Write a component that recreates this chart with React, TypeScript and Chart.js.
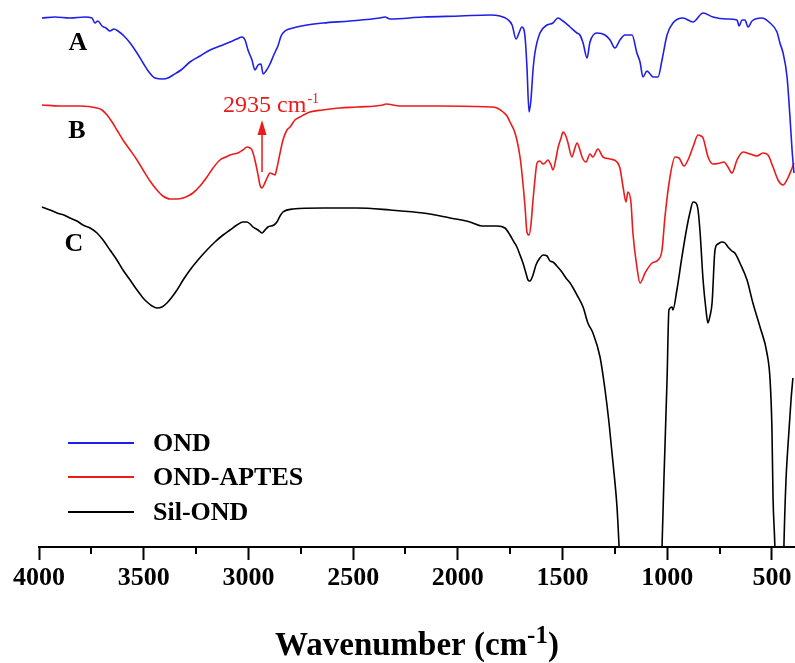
import React, { useEffect, useRef } from 'react';
import { Chart, registerables } from 'chart.js';

Chart.register(...registerables);

// ---------- axis ----------
const X_MIN = 390;
const X_MAX = 4000;
const MAJOR_TICKS = [4000, 3500, 3000, 2500, 2000, 1500, 1000, 500];
const MINOR_TICKS = [3750, 3250, 2750, 2250, 1750, 1250, 750];
const Y_MIN = 0;
const Y_MAX = 547;

// ---------- series (wavenumber cm-1, offset transmittance a.u.) ----------
const SERIES_LABELS = ['OND', 'OND-APTES', 'Sil-OND'];
const SERIES_TAGS = ['A', 'B', 'C'];
const SERIES_COLORS = ['#1f1fe8', '#ec1b1b', '#000000'];

const OND: [number, number][] = [
  [3986, 529], [3924, 530], [3852, 529], [3780, 530], [3747, 529], [3733, 524], [3719, 526], [3699, 521],
  [3680, 519], [3661, 516], [3642, 518], [3623, 516], [3594, 511], [3565, 504], [3532, 494], [3503, 484],
  [3475, 475], [3446, 469], [3408, 468], [3384, 469], [3360, 472], [3322, 477], [3279, 485], [3231, 491],
  [3183, 497], [3136, 501], [3088, 505], [3055, 508], [3031, 510], [3016, 507], [3002, 497], [2983, 487],
  [2969, 477], [2954, 482], [2940, 483], [2930, 473], [2916, 476], [2897, 483], [2883, 490], [2868, 497],
  [2859, 501], [2844, 511], [2825, 516], [2787, 519], [2720, 522], [2644, 524], [2515, 526], [2372, 529],
  [2348, 530], [2324, 528], [2166, 530], [1990, 531], [1846, 532], [1799, 531], [1765, 528], [1741, 522],
  [1722, 508], [1708, 514], [1694, 520], [1679, 510], [1670, 480], [1660, 435], [1651, 447], [1641, 477],
  [1632, 494], [1608, 514], [1574, 522], [1546, 524], [1522, 529], [1498, 526], [1464, 520], [1431, 514],
  [1417, 512], [1402, 504], [1383, 489], [1369, 505], [1336, 514], [1297, 512], [1273, 507], [1250, 499],
  [1226, 507], [1202, 512], [1168, 512], [1145, 494], [1130, 485], [1116, 470], [1097, 476], [1082, 473],
  [1068, 470], [1044, 470], [1025, 487], [1001, 512], [973, 524], [925, 529], [877, 525], [829, 534],
  [782, 530], [715, 528], [667, 527], [657, 521], [643, 527], [629, 527], [614, 520], [595, 526],
  [548, 529], [509, 524], [476, 515], [462, 504], [447, 494], [428, 470], [414, 430], [404, 397], [395, 374],
];

const OND_APTES: [number, number][] = [
  [3986, 442], [3900, 441], [3804, 441], [3723, 439], [3699, 437], [3675, 432], [3651, 425], [3628, 417],
  [3599, 407], [3565, 397], [3532, 387], [3503, 377], [3470, 366], [3437, 357], [3408, 351], [3374, 348],
  [3341, 348], [3312, 349], [3289, 351], [3265, 354], [3231, 361], [3198, 370], [3169, 379], [3136, 387],
  [3107, 390], [3088, 392], [3050, 394], [3026, 397], [3007, 400], [2992, 399], [2983, 397], [2969, 387],
  [2954, 372], [2945, 362], [2935, 359], [2926, 362], [2911, 369], [2897, 374], [2883, 373], [2873, 372],
  [2864, 379], [2849, 394], [2835, 407], [2816, 417], [2801, 420], [2778, 427], [2754, 430], [2706, 435],
  [2644, 437], [2563, 439], [2482, 440], [2357, 442], [2343, 443], [2276, 441], [2085, 441], [1846, 440],
  [1813, 439], [1784, 435], [1765, 431], [1751, 425], [1732, 417], [1718, 407], [1703, 390], [1694, 374],
  [1679, 340], [1670, 315], [1660, 312], [1651, 322], [1641, 347], [1632, 367], [1622, 384], [1608, 386],
  [1593, 383], [1584, 384], [1570, 387], [1555, 382], [1546, 377], [1531, 389], [1522, 399], [1507, 409],
  [1498, 415], [1484, 411], [1474, 404], [1455, 390], [1441, 399], [1431, 404], [1417, 397], [1407, 390],
  [1388, 385], [1369, 393], [1355, 390], [1331, 398], [1307, 390], [1273, 388], [1240, 385], [1226, 379],
  [1211, 360], [1197, 345], [1188, 355], [1173, 344], [1164, 314], [1145, 280], [1130, 264], [1106, 274],
  [1073, 284], [1044, 287], [1025, 297], [1011, 330], [987, 370], [963, 390], [944, 389], [920, 381],
  [901, 387], [877, 400], [853, 412], [839, 411], [829, 409], [805, 390], [782, 383], [748, 384],
  [729, 385], [710, 380], [691, 374], [667, 387], [638, 395], [605, 393], [572, 391], [543, 394],
  [519, 392], [495, 380], [471, 367], [447, 362], [424, 369], [404, 379], [395, 384],
];

const SIL_OND: [number, number][] = [
  [3986, 340], [3947, 337], [3914, 334], [3881, 332], [3852, 329], [3819, 326], [3790, 322], [3756, 319],
  [3723, 314], [3694, 307], [3661, 297], [3628, 287], [3599, 277], [3565, 267], [3532, 257], [3503, 249],
  [3484, 245], [3460, 241], [3437, 239], [3413, 240], [3389, 244], [3365, 250], [3341, 257], [3312, 267],
  [3279, 277], [3241, 287], [3198, 297], [3160, 305], [3121, 312], [3088, 317], [3055, 322], [3026, 325],
  [3007, 325], [2992, 323], [2978, 320], [2954, 317], [2935, 314], [2921, 317], [2907, 320], [2878, 322],
  [2864, 325], [2849, 331], [2835, 335], [2787, 338], [2644, 339], [2482, 339], [2324, 337], [2166, 334],
  [2037, 329], [1942, 325], [1885, 321], [1813, 321], [1775, 319], [1751, 312], [1732, 305], [1718, 300],
  [1703, 292], [1689, 284], [1675, 274], [1665, 267], [1656, 266], [1641, 272], [1627, 282], [1608, 289],
  [1593, 292], [1574, 291], [1560, 286], [1546, 285], [1527, 281], [1503, 275], [1484, 269], [1464, 264],
  [1431, 252], [1402, 240], [1379, 224], [1355, 214], [1321, 190], [1297, 157], [1278, 124], [1259, 84],
  [1240, 40], [1230, 0], [1222, -40], [1130, -200], [1033, -40], [1025, 0], [1016, 67], [1001, 167],
  [992, 237], [977, 240], [973, 237], [954, 257], [930, 290], [906, 320], [891, 335], [877, 345],
  [863, 344], [853, 337], [843, 314], [829, 267], [815, 237], [806, 224], [796, 231], [786, 244],
  [772, 297], [758, 303], [739, 305], [724, 304], [710, 300], [691, 296], [677, 294], [653, 284],
  [619, 267], [591, 244], [557, 220], [524, 194], [509, 167], [500, 117], [495, 50], [486, 0],
  [478, -80], [450, -80], [443, 0], [433, 67], [424, 100], [409, 147], [400, 169],
];

const SERIES = [OND, OND_APTES, SIL_OND];

// ---------- annotation (data coordinates) ----------
const TAG_POS: [number, number][] = [[3814, 504], [3819, 416], [3833, 303]];
const PEAK_WN = 2935;
const ARROW_FROM = 375;
const ARROW_TO = 427;
const PEAK_TEXT_WN = 3121;
const PEAK_TEXT_Y = 435;
const PEAK_TEXT = '2935 cm';
const SUP = '-1';
const X_TITLE = 'Wavenumber (cm';
const LEGEND_Y = [443, 477, 512];

const SERIF = '"Liberation Serif", "Times New Roman", serif';

const overlay = {
  id: 'overlay',
  afterDraw(chart: any) {
    const { ctx, chartArea } = chart;
    const x = chart.scales.x;
    const y = chart.scales.y;
    ctx.save();

    // minor ticks
    ctx.strokeStyle = '#000';
    ctx.lineWidth = 2;
    for (const t of MINOR_TICKS) {
      const px = Math.round(x.getPixelForValue(t));
      ctx.beginPath();
      ctx.moveTo(px, chartArea.bottom);
      ctx.lineTo(px, chartArea.bottom + 7);
      ctx.stroke();
    }

    // curve tags A B C
    ctx.font = `bold 26px ${SERIF}`;
    ctx.fillStyle = '#000';
    ctx.textAlign = 'center';
    ctx.textBaseline = 'middle';
    SERIES_TAGS.forEach((tag, i) => {
      ctx.fillText(tag, x.getPixelForValue(TAG_POS[i][0]), y.getPixelForValue(TAG_POS[i][1]));
    });

    // peak annotation
    const red = SERIES_COLORS[1];
    const ax = x.getPixelForValue(PEAK_WN);
    const y0 = y.getPixelForValue(ARROW_FROM);
    const y1 = y.getPixelForValue(ARROW_TO);
    ctx.strokeStyle = red;
    ctx.fillStyle = red;
    ctx.lineWidth = 1.5;
    ctx.beginPath();
    ctx.moveTo(ax, y0);
    ctx.lineTo(ax, y1 + 13);
    ctx.stroke();
    ctx.beginPath();
    ctx.moveTo(ax, y1);
    ctx.lineTo(ax - 4.5, y1 + 15);
    ctx.lineTo(ax + 4.5, y1 + 15);
    ctx.closePath();
    ctx.fill();

    ctx.textAlign = 'left';
    ctx.textBaseline = 'alphabetic';
    const tx = x.getPixelForValue(PEAK_TEXT_WN);
    const ty = y.getPixelForValue(PEAK_TEXT_Y);
    ctx.font = `24px ${SERIF}`;
    ctx.fillText(PEAK_TEXT, tx, ty);
    const w1 = ctx.measureText(PEAK_TEXT).width;
    ctx.font = `14px ${SERIF}`;
    ctx.fillText(SUP, tx + w1 + 1, ty - 9);

    // legend
    const ds = chart.data.datasets;
    ds.forEach((d: any, i: number) => {
      const ly = y.getPixelForValue(Y_MAX - LEGEND_Y[i]);
      ctx.strokeStyle = d.borderColor;
      ctx.lineWidth = 2;
      ctx.beginPath();
      ctx.moveTo(68, ly);
      ctx.lineTo(134, ly);
      ctx.stroke();
      ctx.fillStyle = '#000';
      ctx.font = `bold 26px ${SERIF}`;
      ctx.textBaseline = 'middle';
      ctx.fillText(d.label, 153, ly + 1);
    });

    // axis title with superscript
    ctx.fillStyle = '#000';
    ctx.textBaseline = 'alphabetic';
    const mainFont = `bold 33px ${SERIF}`;
    const supFont = `bold 25px ${SERIF}`;
    ctx.font = mainFont;
    const wa = ctx.measureText(X_TITLE).width;
    const wc = ctx.measureText(')').width;
    ctx.font = supFont;
    const wb = ctx.measureText(SUP).width;
    const total = wa + wb + wc;
    const cx = (chartArea.left + chartArea.right) / 2;
    const base = chartArea.bottom + 108;
    let sx = cx - total / 2;
    ctx.font = mainFont;
    ctx.fillText(X_TITLE, sx, base);
    sx += wa;
    ctx.font = supFont;
    ctx.fillText(SUP, sx, base - 12);
    sx += wb;
    ctx.font = mainFont;
    ctx.fillText(')', sx, base);

    ctx.restore();
  },
};

export default function App() {
  const ref = useRef<HTMLCanvasElement | null>(null);

  useEffect(() => {
    if (!ref.current) return;
    const chart = new Chart(ref.current, {
      type: 'line',
      data: {
        datasets: SERIES.map((s, i) => ({
          label: SERIES_LABELS[i],
          data: s.map(([wx, vy]) => ({ x: wx, y: vy })),
          borderColor: SERIES_COLORS[i],
          backgroundColor: SERIES_COLORS[i],
          borderWidth: 1.6,
          pointRadius: 0,
          fill: false,
          cubicInterpolationMode: 'monotone' as const,
        })),
      },
      options: {
        animation: false,
        responsive: false,
        maintainAspectRatio: false,
        layout: { padding: { left: 39, right: 0, top: 0, bottom: 0 } },
        plugins: {
          legend: { display: false },
          tooltip: { enabled: false },
          title: { display: false },
        },
        scales: {
          x: {
            type: 'linear',
            min: X_MIN,
            max: X_MAX,
            reverse: true,
            afterBuildTicks: (scale: any) => {
              scale.ticks = MAJOR_TICKS.map((value) => ({ value }));
            },
            afterFit: (scale: any) => {
              scale.height = 116;
            },
            ticks: {
              autoSkip: false,
              maxRotation: 0,
              padding: 3,
              color: '#000',
              font: { family: SERIF, size: 26, weight: 'bold' },
              callback: (v: any) => String(v),
            },
            grid: {
              display: true,
              drawOnChartArea: false,
              drawTicks: true,
              tickLength: 13,
              tickWidth: 2,
              tickColor: '#000',
            },
            border: { display: true, color: '#000', width: 2 },
          },
          y: {
            type: 'linear',
            display: false,
            min: Y_MIN,
            max: Y_MAX,
          },
        },
      },
      plugins: [overlay],
    });
    return () => chart.destroy();
  }, []);

  return (
    <div style={{ position: 'fixed', left: 0, top: 0, width: 795, height: 663, background: '#fff' }}>
      <canvas ref={ref} width={795} height={663} style={{ display: 'block', width: 795, height: 663 }} />
    </div>
  );
}
